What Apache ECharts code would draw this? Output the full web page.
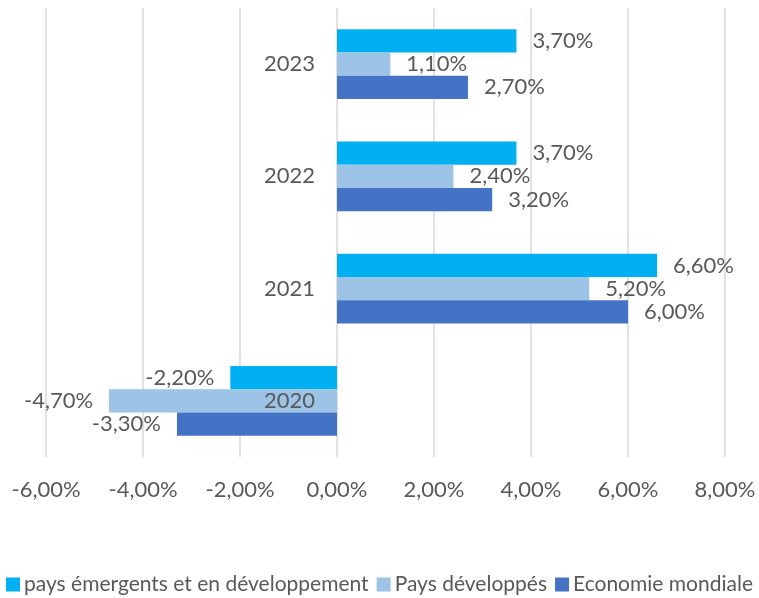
<!DOCTYPE html>
<html>
<head>
<meta charset="utf-8">
<script src="https://cdn.jsdelivr.net/npm/echarts@6/dist/echarts.min.js"></script>
<style>
  html, body { margin: 0; padding: 0; background: #fff; }
  #chart { width: 759px; height: 598px; }
</style>
</head>
<body>
<div id="chart"></div>
<script>
// données (en %)
var years = ['2020', '2021', '2022', '2023'];
var emergents = [-2.2, 6.6, 3.7, 3.7];
var developpes = [-4.7, 5.2, 2.4, 1.1];
var mondiale = [-3.3, 6.0, 3.2, 2.7];
var xTicks = [-6, -4, -2, 0, 2, 4, 6, 8];

var txt = '#595959';
var font = 'Lato';

function pct(v) {
    return v.toFixed(2).replace('.', ',') + '%';
}

// label à gauche pour les valeurs négatives
function withLabels(arr) {
    return arr.map(function (v) {
        return {
            value: v,
            label: { position: v < 0 ? 'left' : 'right' }
        };
    });
}

function bar(name, color, arr) {
    return {
        name: name,
        type: 'bar',
        data: withLabels(arr),
        itemStyle: { color: color },
        barGap: '0%',
        barCategoryGap: '38%',
        label: {
            show: true,
            distance: 16,
            color: txt,
            fontFamily: font,
            fontSize: 22,
            formatter: function (p) { return pct(p.value); }
        }
    };
}

var chart = echarts.init(document.getElementById('chart'));
chart.setOption({
    animation: false,
    grid: { left: 46, right: 34, top: 8, bottom: 141, outerBoundsMode: 'none' },
    legend: {
        bottom: -2,
        left: 'center',
        itemWidth: 14,
        itemHeight: 14,
        itemGap: 8,
        icon: 'rect',
        data: ['pays émergents et en développement', 'Pays développés', 'Economie mondiale'],
        textStyle: { color: txt, fontFamily: font, fontSize: 21, padding: [0, 0, 0, -1] }
    },
    xAxis: {
        type: 'value',
        min: xTicks[0],
        max: xTicks[xTicks.length - 1],
        interval: 2,
        axisLine: { show: false },
        axisTick: { show: false },
        splitLine: { lineStyle: { color: '#D9D9D9', width: 1.5 } },
        axisLabel: {
            margin: 22,
            color: txt,
            fontFamily: font,
            fontSize: 22,
            formatter: function (v) { return pct(v); }
        }
    },
    yAxis: {
        type: 'category',
        data: years,
        z: 5,
        // étiquettes des années au niveau du 0 %
        offset: -291,
        axisLine: { show: false },
        axisTick: { show: false },
        axisLabel: { margin: 22, color: txt, fontFamily: font, fontSize: 22 }
    },
    series: [
        bar('pays émergents et en développement', '#00B0F0', emergents),
        bar('Pays développés', '#9DC3E6', developpes),
        bar('Economie mondiale', '#4472C4', mondiale)
    ]
});
</script>
</body>
</html>
